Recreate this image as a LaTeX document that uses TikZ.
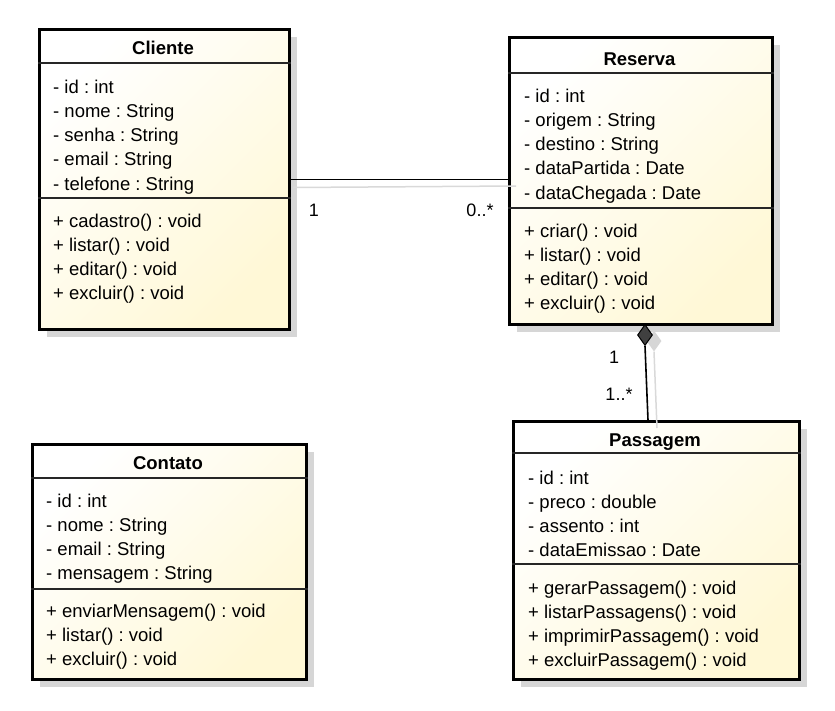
\documentclass[tikz,border=0pt]{standalone}
\usepackage{fontspec}
\setmainfont{Liberation Sans}
\usetikzlibrary{shapes.geometric,shadows}
\definecolor{ylw}{HTML}{FFF8D6}
\definecolor{shd}{HTML}{D6D6D6}
\definecolor{lshd}{HTML}{D9D9D9}
\tikzset{
  classbox/.style={draw=black, line width=3pt, top color=white, bottom color=ylw, shading angle=45,
    anchor=north west, inner sep=0pt,
    drop shadow={shadow xshift=7pt, shadow yshift=-7pt, fill=shd, opacity=1}},
  sepline/.style={draw=black!85, line width=1.3pt},
  txt/.style={inner sep=0pt, anchor=base west, font=\fontsize{18.5}{22}\selectfont},
  ttl/.style={inner sep=0pt, anchor=base, font=\fontsize{18.5}{22}\selectfont\bfseries},
  mult/.style={inner sep=0pt, anchor=base, font=\fontsize{18}{22}\selectfont},
  assoc/.style={draw=black, line width=1.6pt},
  assocshadow/.style={draw=lshd, line width=1.5pt},
}
\begin{document}
\frenchspacing
\begin{tikzpicture}[x=1pt,y=-1pt]
\useasboundingbox (0,0) rectangle (835,710);

% boxes
\node[classbox, minimum width=250pt, minimum height=300pt] (cliente) at (38,28) {};
\node[classbox, minimum width=263pt, minimum height=287pt] (reserva) at (508,36) {};
\node[classbox, minimum width=274pt, minimum height=235pt] (contato) at (31,443) {};
\node[classbox, minimum width=286pt, minimum height=258pt] (passagem) at (512,420) {};

% separators
\draw[sepline] (cliente.west |- 0,63) -- (cliente.east |- 0,63);
\draw[sepline] (cliente.west |- 0,198) -- (cliente.east |- 0,198);
\draw[sepline] (reserva.west |- 0,73) -- (reserva.east |- 0,73);
\draw[sepline] (reserva.west |- 0,208) -- (reserva.east |- 0,208);
\draw[sepline] (contato.west |- 0,478) -- (contato.east |- 0,478);
\draw[sepline] (contato.west |- 0,589) -- (contato.east |- 0,589);
\draw[sepline] (passagem.west |- 0,453) -- (passagem.east |- 0,453);
\draw[sepline] (passagem.west |- 0,564) -- (passagem.east |- 0,564);

% titles
\node[ttl] (t-cliente) at (163,54) {Cliente};
\node[ttl] (t-reserva) at (639.5,65) {Reserva};
\node[ttl] (t-contato) at (168,469) {Contato};
\node[ttl] (t-passagem) at (655,446) {Passagem};

% Cliente
\foreach \t [count=\i from 0] in {- id : int, - nome : String, - senha : String, - email : String, - telefone : String}
  \node[txt] (cla\i) at (53,93+24.3*\i) {\t};
\foreach \t [count=\i from 0] in {+ cadastro() : void, + listar() : void, + editar() : void, + excluir() : void}
  \node[txt] (clm\i) at (53,227+24.3*\i) {\t};

% Reserva
\foreach \t [count=\i from 0] in {- id : int, - origem : String, - destino : String, - dataPartida : Date, - dataChegada : Date}
  \node[txt] (rea\i) at (524,102+24.3*\i) {\t};
\foreach \t [count=\i from 0] in {+ criar() : void, + listar() : void, + editar() : void, + excluir() : void}
  \node[txt] (rem\i) at (524,237+24.3*\i) {\t};

% Contato
\foreach \t [count=\i from 0] in {- id : int, - nome : String, - email : String, - mensagem : String}
  \node[txt] (coa\i) at (46,507+24.3*\i) {\t};
\foreach \t [count=\i from 0] in {+ enviarMensagem() : void, + listar() : void, + excluir() : void}
  \node[txt] (com\i) at (46,617+24.3*\i) {\t};

% Passagem
\foreach \t [count=\i from 0] in {- id : int, - preco : double, - assento : int, - dataEmissao : Date}
  \node[txt] (paa\i) at (528,484+24.3*\i) {\t};
\foreach \t [count=\i from 0] in {+ gerarPassagem() : void, + listarPassagens() : void, + imprimirPassagem() : void, + excluirPassagem() : void}
  \node[txt] (pam\i) at (528,594+24.3*\i) {\t};

% association Cliente - Reserva
\draw[assocshadow] ([shift={(2,8)}]cliente.east) -- ([shift={(8,6.5)}]reserva.west |- cliente.east);
\draw[assoc] (cliente.east) -- (reserva.west |- cliente.east);
\node[mult] (m1) at (314,216) {1};
\node[mult] (m2) at (480,216) {0..*};

% composition Reserva - Passagem
\node[diamond, fill=shd, draw=none, minimum width=15pt, minimum height=21pt, inner sep=0pt] (diashadow) at (654,341) {};
\draw[assocshadow] (diashadow.south) -- (657,428);
\node[diamond, fill=black!75, draw=black, line width=1pt, minimum width=15pt, minimum height=21pt, inner sep=0pt, anchor=north] (dia) at (645,324) {};
\coordinate (pend) at (passagem.north -| 648,0);
\draw[assoc] (dia.south) -- (pend);
\node[mult] (m3) at (614,363) {1};
\node[mult] (m4) at (619,400) {1..*};
\end{tikzpicture}
\end{document}
